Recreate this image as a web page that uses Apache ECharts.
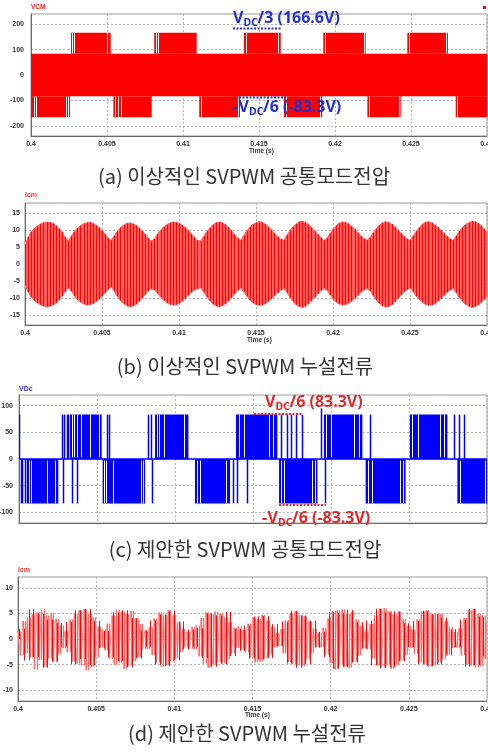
<!DOCTYPE html>
<html><head><meta charset="utf-8">
<script src="https://cdn.jsdelivr.net/npm/echarts@6/dist/echarts.min.js"></script>
<style>html,body{margin:0;padding:0;background:#fff}#c{width:488px;height:752px}</style>
</head><body><div id="c"></div>
<script>
// ================= DATA =================
const vcmTicks = [-200, -100, 0, 100, 200];
const icmTicksB = [-15, -10, -5, 0, 5, 10, 15];
const vdcTicks = [-100, -50, 0, 50, 100];
const icmTicksD = [-10, -5, 0, 5, 10];

// (a) ideal SVPWM common-mode voltage
const VDC3 = 166.6, VDC6 = 83.3;
const vcmUpperBlocks = [[0.40263,0.40524],[0.40811,0.41090],[0.41401,0.41643],[0.41923,0.42202],[0.42476,0.42743]];
const vcmLowerBlocks = [[0.4,0.40257],[0.40542,0.40794],[0.41107,0.41375],[0.41664,0.41916],[0.42213,0.42432],[0.42794,0.43]];
const vcmUpperGaps = [0.40272,0.40283,0.40500,0.40822,0.40835,0.41415,0.41625,0.41935,0.42190,0.42488,0.42730];
const vcmLowerGaps = [0.40020,0.40030,0.40230,0.40245,0.40555,0.40570,0.40590,0.41120,0.41360,0.41680,0.41900,0.42225,0.42420,0.42805];

// (b) ideal SVPWM leakage current envelope (sampled every 0.2 ms from 0.4 s)
const icmBStart = 0.4, icmBStep = 0.0002;
const icmBUpper = [5.8,8.0,9.5,10.5,11.2,11.8,12.2,12.4,12.3,12.0,11.4,10.5,9.4,8.0,6.8,
 8.2,9.6,10.6,11.3,11.9,12.2,12.3,12.0,11.5,10.8,9.9,8.8,7.6,7.0,
 8.3,9.7,10.8,11.5,12.0,12.1,11.9,11.4,10.7,9.8,8.8,7.6,6.7,7.4,
 8.8,10.0,10.9,11.6,12.1,12.4,12.3,12.0,11.5,10.8,9.9,8.9,7.9,7.0,6.8,
 8.2,9.6,10.7,11.6,12.2,12.4,12.2,11.7,10.9,9.9,8.8,7.6,7.0,
 8.4,9.8,10.9,11.7,12.2,12.5,12.3,11.8,11.0,10.1,9.1,8.1,7.3,7.0,
 8.5,9.9,11.0,11.8,12.5,12.6,12.3,11.7,10.8,9.8,8.8,7.8,7.0,
 7.6,9.0,10.3,11.3,12.0,12.4,12.3,11.9,11.2,10.3,9.3,8.3,7.5,7.0,
 7.8,9.2,10.4,11.4,12.1,12.5,12.3,11.8,11.0,10.1,9.1,8.2,7.4,7.0,
 8.3,9.7,10.8,11.7,12.3,12.5,12.2,11.6,10.9,10.0,9.1,8.2,7.4,7.0,
 8.3,9.7,10.8,11.6,12.2,12.6,12.5,12.1,11.4,10.4,9.5];
const icmBLower = [-6.3,-8.3,-9.8,-10.8,-11.5,-12.0,-12.4,-12.6,-12.5,-12.1,-11.5,-10.6,-9.5,-8.2,-7.0,
 -8.0,-9.4,-10.5,-11.2,-11.8,-12.1,-12.0,-11.7,-11.1,-10.4,-9.5,-8.5,-7.5,-6.8,
 -8.1,-9.6,-10.8,-11.7,-12.3,-12.6,-12.4,-11.9,-11.1,-10.1,-9.0,-8.0,-7.3,-7.6,
 -8.6,-9.8,-10.7,-11.4,-11.9,-12.1,-12.0,-11.6,-11.0,-10.2,-9.3,-8.4,-7.7,-7.3,-7.0,
 -8.3,-9.7,-10.9,-11.8,-12.4,-12.6,-12.3,-11.8,-11.0,-10.0,-8.9,-7.8,-7.1,
 -8.2,-9.5,-10.6,-11.5,-12.0,-12.2,-12.1,-11.7,-11.1,-10.3,-9.4,-8.5,-7.7,-7.2,
 -8.4,-9.9,-11.1,-12.0,-12.6,-12.8,-12.5,-11.8,-10.9,-9.9,-8.8,-7.9,-7.2,
 -7.7,-9.1,-10.3,-11.2,-11.8,-12.1,-12.0,-11.6,-11.0,-10.2,-9.3,-8.4,-7.7,-7.2,
 -7.9,-9.3,-10.6,-11.6,-12.3,-12.7,-12.6,-12.0,-11.2,-10.2,-9.2,-8.3,-7.6,-7.1,
 -8.2,-9.5,-10.5,-11.3,-11.9,-12.2,-12.1,-11.7,-11.0,-10.2,-9.3,-8.4,-7.7,-7.2,
 -8.5,-9.9,-11.0,-11.9,-12.5,-12.8,-12.6,-12.1,-11.4,-10.5,-9.6];

// (c) proposed SVPWM common-mode voltage
const vdcPosBlocks = [[0.40327,0.40530],[0.40872,0.41086],[0.41391,0.41656],[0.41955,0.42201],[0.42506,0.42746]];
const vdcNegBlocks = [[0.40050,0.40252],[0.40536,0.40808],[0.41128,0.41353],[0.41667,0.41913],[0.42222,0.42478],[0.42810,0.43]];
const vdcPosSpikes = [0.4,0.40276,0.40290,0.40305,0.40316,0.40562,0.40579,0.40829,0.40844,0.41677,0.41720,0.41741,0.41773,0.41816,0.42250,0.42788,0.42821,0.42853];
const vdcNegSpikes = [0.40010,0.40022,0.40036,0.40284,0.40338,0.40374,0.40850,0.41374,0.41400,0.41464,0.41962];
const vdcGlitch = [[0.41939, 0, 95]];
const vdcPosGaps = [0.40340,0.40352,0.40370,0.40400,0.40455,0.40510,0.40885,0.40900,0.40930,0.41060,0.41410,0.41440,0.41600,0.41630,0.41970,0.42000,0.42150,0.42180,0.42520,0.42560,0.42700,0.42725];
const vdcNegGaps = [0.40065,0.40080,0.40180,0.40230,0.40545,0.40560,0.40600,0.40780,0.40795,0.41140,0.41160,0.41330,0.41680,0.41700,0.41880,0.41900,0.42240,0.42260,0.42440,0.42460,0.42830,0.42990];

// (d) proposed SVPWM leakage current (light trace every 0.15 ms, dark trace every 0.3 ms)
const icmDStart = 0.4, icmDStep = 0.00015;
const icmDLight = [1.5,-3.2,3.5,-2.8,4.2,-3.6,4.8,-5.9,5.2,-4.1,5.9,-5.4,4.6,-3.8,5.1,-4.5,3.9,-3.0,2.6,
 -1.8,1.5,
 -2.6,3.8,-4.4,5.0,-4.8,5.6,-5.2,5.8,-6.1,4.9,-5.5,4.2,-3.6,
 2.4,-1.6,1.9,-2.2,
 3.0,-3.9,4.6,-5.0,5.7,-4.6,5.3,-5.8,4.9,-5.2,5.5,-4.4,4.0,-3.5,2.9,
 -2.0,1.6,-1.9,2.3,
 -3.1,4.0,-4.6,5.2,-5.4,4.7,-5.1,5.6,-4.3,4.6,-3.8,3.2,
 -2.5,2.0,-1.6,1.4,-1.9,2.3,-2.0,2.6,
 -3.4,4.1,-4.8,5.2,-5.6,4.9,-5.0,5.3,-4.6,5.0,-4.7,4.2,-3.9,3.3,-2.8,
 2.2,-1.7,2.5,-2.1,1.8,-2.6,3.0,
 -3.6,4.2,-4.6,3.9,-4.4,4.7,-3.8,3.6,-3.0,2.4,
 -1.6,1.2,-1.4,1.9,
 -2.8,3.7,-4.5,5.1,-4.9,5.4,-5.0,4.7,-5.3,4.4,-3.9,3.4,-2.7,
 2.0,-1.5,1.2,-1.6,2.2,
 -3.0,4.0,-4.7,5.5,-5.9,5.6,-5.0,5.8,-5.4,4.9,-5.6,5.2,-4.5,3.8,-3.2,2.6,
 -1.8,1.5,-2.0,
 2.9,-3.8,4.6,-5.2,5.9,-5.5,6.0,-5.0,5.4,-5.8,4.8,-5.1,5.3,-4.2,3.9,-3.1,2.5,
 -1.7,1.8,
 -2.9,3.8,-4.6,5.3,-5.0,5.6,-5.4,4.8,-5.2,5.0,-4.6,4.9,-4.0,3.5,-3.0,2.4,
 -1.8,1.4,-1.7,2.1,
 -3.2,4.1,-4.9,5.6,-5.2,5.8,-5.5,4.9,-5.3,4.6,-3.9,3.2];
const icmDDarkStart = 0.400075, icmDDarkStep = 0.0003;
const icmDDark = [2.0,-4.2,5.8,-3.5,4.9,-5.6,3.8,-4.4,3.1,
 -1.5,
 3.3,-4.9,5.6,-3.9,5.9,-5.1,3.5,
 -1.8,1.6,
 -3.6,5.2,-4.3,5.6,-5.5,4.1,-3.8,
 1.7,-1.5,
 3.6,-5.0,4.8,-5.3,5.5,-4.2,3.4,
 -2.0,1.8,-1.5,2.1,
 -3.7,5.0,-5.4,4.6,-4.9,5.3,-3.3,
 2.0,-2.3,2.6,
 -3.8,4.4,-4.0,4.5,-3.7,2.9,
 -1.4,
 3.4,-4.8,5.5,-5.6,4.6,-4.9,3.6,
 -1.7,1.4,
 -3.5,5.3,-5.8,5.0,-5.5,5.7,-4.6,3.3,
 -1.9,
 3.6,-5.1,5.9,-5.7,5.2,-5.5,5.4,-4.3,3.1,
 -1.6,
 3.5,-4.9,5.5,-5.3,4.9,-5.0,4.2,-3.2,
 1.9,-1.6,
 3.8,-5.4,5.9,-5.1,4.4,-3.4];

// ================= BUILD =================
const r6 = v => Math.round(v * 1e6) / 1e6;
const series_t = (start, step, arr) => arr.map((v, i) => [r6(start + i * step), v]);
// vertical swings between consecutive samples: [t, previous value, value]
const swings = (start, step, arr) => arr.map((v, i) => [r6(start + i * step), i ? arr[i - 1] : 0, v]);

const vcmRects = [[0.4, 0.43, -VDC6, VDC6]]
  .concat(vcmUpperBlocks.map(b => [b[0], b[1], VDC6, VDC3]))
  .concat(vcmLowerBlocks.map(b => [b[0], b[1], -VDC3, -VDC6]));
const vcmGapLines = vcmUpperGaps.map(t => [t, VDC6 + 2, VDC3])
  .concat(vcmLowerGaps.map(t => [t, -VDC3, -VDC6 - 2]));

const vdcRects = vdcPosBlocks.map(b => [b[0], b[1], 0, VDC6])
  .concat(vdcNegBlocks.map(b => [b[0], b[1], -VDC6, 0]));
const vdcLines = vdcPosSpikes.map(t => [t, 0, VDC6])
  .concat(vdcNegSpikes.map(t => [t, -VDC6, 0]))
  .concat(vdcGlitch);
const vdcGapLines = vdcPosGaps.map(t => [t, 3, VDC6])
  .concat(vdcNegGaps.map(t => [t, -VDC6, -3]));

const bUp = series_t(icmBStart, icmBStep, icmBUpper);
const bLo = series_t(icmBStart, icmBStep, icmBLower);
const bLines = icmBUpper.map((v, i) => [r6(icmBStart + i * icmBStep), icmBLower[i], v]);

const dLightLine = series_t(icmDStart, icmDStep, icmDLight);
const dLight = swings(icmDStart, icmDStep, icmDLight);
const dDark = swings(icmDDarkStart, icmDDarkStep, icmDDark);

function rectItem(color) {
  return function (params, api) {
    const p0 = api.coord([api.value(0), api.value(3)]);
    const p1 = api.coord([api.value(1), api.value(2)]);
    return { type: 'rect', shape: { x: p0[0], y: p0[1], width: p1[0] - p0[0], height: p1[1] - p0[1] },
      style: { fill: color } };
  };
}
function vlineItem(color, w) {
  return function (params, api) {
    const p0 = api.coord([api.value(0), api.value(1)]);
    const p1 = api.coord([api.value(0), api.value(2)]);
    const x = Math.round(p0[0]) + 0.5;
    return { type: 'line', shape: { x1: x, y1: p0[1], x2: x, y2: p1[1] },
      style: { stroke: color, lineWidth: w } };
  };
}

const FONT = 'Liberation Sans';
const grids = [
  { left: 31, right: 1, top: 14, height: 122 },
  { left: 25, right: 1, top: 203, height: 122 },
  { left: 19, right: 1, top: 395, height: 128 },
  { left: 18, right: 1, top: 577, height: 124 }
].map(g => Object.assign({ show: true, borderColor: '#9a9a9a', borderWidth: 1, containLabel: false, outerBoundsMode: 'none' }, g));

const yConf = [
  { min: -240, max: 240, ticks: vcmTicks, margin: 7 },
  { min: -18, max: 18, ticks: icmTicksB, margin: 5 },
  { min: -120, max: 120, ticks: vdcTicks, margin: 6 },
  { min: -12.1, max: 12.1, ticks: icmTicksD, margin: 5 }
];

const xAxes = grids.map((g, i) => ({
  type: 'value', gridIndex: i, min: 0.4, max: 0.43, interval: 0.005,
  axisLine: { show: true, onZero: false, lineStyle: { color: '#6a6a6a', width: 1 } },
  axisTick: { show: false },
  splitLine: { show: true, lineStyle: { color: '#b4b4b4', type: [2, 2], width: 1 } },
  axisLabel: { show: i !== 2, fontSize: 7, fontWeight: 'bold', color: '#333', fontFamily: FONT, margin: 5,
    showMinLabel: true, showMaxLabel: true, hideOverlap: false,
    formatter: v => String(parseFloat((+v).toFixed(4))) }
}));
const yAxes = yConf.map((c, i) => ({
  type: 'value', gridIndex: i, min: c.min, max: c.max,
  axisLine: { show: true, onZero: false, lineStyle: { color: '#6a6a6a', width: 1 } },
  axisTick: { show: false, customValues: c.ticks },
  splitLine: { show: true, lineStyle: { color: '#b4b4b4', type: [2, 2], width: 1 } },
  axisLabel: { fontSize: 7, fontWeight: 'bold', color: '#333', fontFamily: FONT, margin: c.margin,
    customValues: c.ticks, showMinLabel: true, showMaxLabel: true, hideOverlap: false }
}));

const series = [
  { type: 'custom', xAxisIndex: 0, yAxisIndex: 0, clip: true, z: 3, renderItem: rectItem('#ff0000'),
    encode: { x: [0, 1], y: [2, 3] }, data: vcmRects, silent: true },
  { type: 'custom', xAxisIndex: 0, yAxisIndex: 0, clip: true, z: 4, renderItem: vlineItem('#ffffff', 1),
    encode: { x: 0, y: [1, 2] }, data: vcmGapLines, silent: true },

  { type: 'line', xAxisIndex: 1, yAxisIndex: 1, data: bUp, showSymbol: false, silent: true, z: 2,
    lineStyle: { color: '#ff7070', width: 1 }, areaStyle: { color: '#ff6464', opacity: 1 } },
  { type: 'line', xAxisIndex: 1, yAxisIndex: 1, data: bLo, showSymbol: false, silent: true, z: 2,
    lineStyle: { color: '#ff7070', width: 1 }, areaStyle: { color: '#ff6464', opacity: 1 } },
  { type: 'custom', xAxisIndex: 1, yAxisIndex: 1, clip: true, z: 5, renderItem: vlineItem('#f00a0a', 1.2),
    encode: { x: 0, y: [1, 2] }, data: bLines, silent: true },

  { type: 'line', xAxisIndex: 2, yAxisIndex: 2, data: [[0.4, 0], [0.43, 0]], showSymbol: false, silent: true, z: 3,
    lineStyle: { color: '#0000ff', width: 1.5 } },
  { type: 'custom', xAxisIndex: 2, yAxisIndex: 2, clip: true, z: 3, renderItem: rectItem('#0000ff'),
    encode: { x: [0, 1], y: [2, 3] }, data: vdcRects, silent: true },
  { type: 'custom', xAxisIndex: 2, yAxisIndex: 2, clip: true, z: 4, renderItem: vlineItem('#ffffff', 1),
    encode: { x: 0, y: [1, 2] }, data: vdcGapLines, silent: true },
  { type: 'custom', xAxisIndex: 2, yAxisIndex: 2, clip: true, z: 5, renderItem: vlineItem('#0000ff', 1.5),
    encode: { x: 0, y: [1, 2] }, data: vdcLines, silent: true },

  { type: 'line', xAxisIndex: 3, yAxisIndex: 3, data: dLightLine, showSymbol: false, silent: true, z: 2,
    lineStyle: { color: '#ff9a9a', width: 1 } },
  { type: 'custom', xAxisIndex: 3, yAxisIndex: 3, clip: true, z: 3, renderItem: vlineItem('#ff6a6a', 1.2),
    encode: { x: 0, y: [1, 2] }, data: dLight, silent: true },
  { type: 'custom', xAxisIndex: 3, yAxisIndex: 3, clip: true, z: 4, renderItem: vlineItem('#ee0c0c', 1),
    encode: { x: 0, y: [1, 2] }, data: dDark, silent: true }
];

function txt(x, y, text, o) {
  o = o || {};
  return { type: 'text', x: x, y: y, z: 100, silent: true, style: {
    text: text, fill: o.color || '#333', fontSize: o.size || 7, fontWeight: o.weight || 'normal',
    fontFamily: o.family || FONT, textAlign: o.align || 'left', align: o.align || 'left',
    textVerticalAlign: 'middle', verticalAlign: 'middle' } };
}
function dots(x1, x2, y, color) {
  return { type: 'line', z: 100, silent: true, shape: { x1: x1, y1: y, x2: x2, y2: y },
    style: { stroke: color, lineWidth: 2, lineDash: [2, 1.5] } };
}
function vdcLabel(x, y, pre, post, color) {
  const A = { color: color, size: 16, weight: 'bold', family: 'Noto Sans' };
  const S = { color: color, size: 10.5, weight: 'bold', family: 'Noto Sans' };
  const out = [];
  let cx = x;
  if (pre) { out.push(txt(cx, y, pre, A)); cx += 5.5; }
  out.push(txt(cx, y, 'V', A)); cx += 10.5;
  out.push(txt(cx, y + 5, 'DC', S)); cx += 14;
  out.push(txt(cx, y, post, A));
  return out;
}
const CAP = { color: '#333', size: 20, family: 'Noto Sans CJK KR', align: 'center' };
const BLUE = '#2430c8', RED = '#e0282a';
const graphics = [].concat(
  [txt(31, 7, 'VCM', { color: '#ff2020', size: 6.5, weight: 'bold' }),
   { type: 'rect', z: 100, shape: { x: 483, y: 6, width: 3, height: 3 }, style: { fill: '#ff0000' } },
   txt(249, 151, 'Time (s)', { size: 6.5, weight: 'bold' }),
   txt(244, 176, '(a) 이상적인 SVPWM 공통모드전압', CAP),
   dots(233, 281, 28.5, BLUE), dots(239, 285, 97.5, BLUE)],
  vdcLabel(233, 18, null, '/3 (166.6V)', BLUE),
  vdcLabel(233, 107, '-', '/6 (-83.3V)', BLUE),
  [txt(25, 195, 'Icm', { color: '#ff3030', size: 7, weight: 'bold' }),
   txt(247, 340, 'Time (s)', { size: 6.5, weight: 'bold' }),
   txt(245, 366, '(b) 이상적인 SVPWM 누설전류', CAP),
   txt(19, 389, 'VDc', { color: '#3030ff', size: 7, weight: 'bold' }),
   dots(254, 302, 414, RED), dots(279, 326, 505, RED),
   txt(245, 549, '(c) 제안한 SVPWM 공통모드전압', CAP)],
  vdcLabel(265, 402, null, '/6 (83.3V)', RED),
  vdcLabel(262, 518, '-', '/6 (-83.3V)', RED),
  [txt(18, 570, 'Icm', { color: '#ff3030', size: 7, weight: 'bold' }),
   txt(245, 715, 'Time (s)', { size: 6.5, weight: 'bold' }),
   txt(247, 733, '(d) 제안한 SVPWM 누설전류', CAP)]
);

const chart = echarts.init(document.getElementById('c'), null, { renderer: 'canvas' });
chart.setOption({
  animation: false,
  backgroundColor: '#ffffff',
  grid: grids, xAxis: xAxes, yAxis: yAxes, series: series, graphic: { elements: graphics }
});
</script>
</body></html>
